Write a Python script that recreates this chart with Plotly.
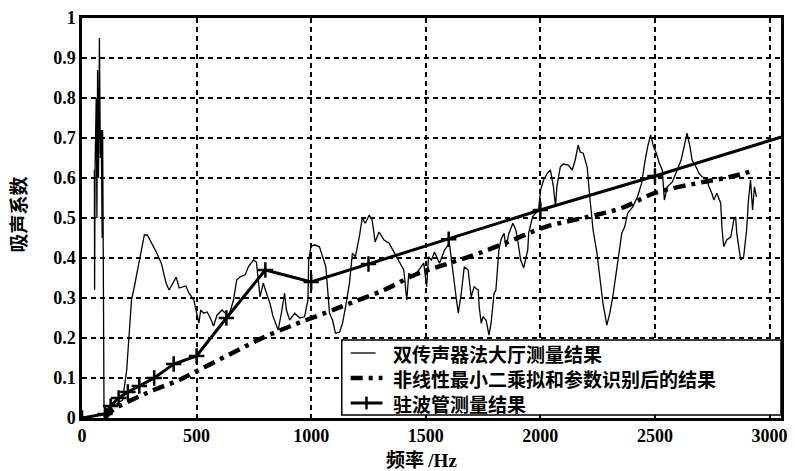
import plotly.graph_objects as go

# ---- data ----
hall_freq = [54, 55, 57, 62, 65, 68, 72, 76, 80, 84, 88, 90, 93, 96, 110, 130, 150, 177, 195, 207, 216, 229, 251, 272, 285,
             302, 324, 346, 367, 380, 402, 411, 424, 453, 467, 488, 510, 518, 531, 546, 560, 574, 589, 611, 640, 661,
             675, 690, 712, 726, 748, 761, 777, 791, 805, 820, 834, 856, 870, 884, 892, 906, 928, 950, 971, 986, 989,
             999, 1014, 1036, 1050, 1064, 1072, 1080, 1093, 1106, 1124, 1137, 1150, 1167, 1180, 1193, 1210, 1223,
             1236, 1253, 1266, 1279, 1296, 1318, 1340, 1361, 1383, 1404, 1417, 1426, 1448, 1469, 1491, 1504, 1512,
             1525, 1538, 1560, 1582, 1603, 1620, 1634, 1642, 1655, 1668, 1685, 1698, 1711, 1729, 1733, 1742, 1750,
             1763, 1776, 1785, 1798, 1806, 1819, 1828, 1841, 1850, 1863, 1880, 1893, 1901, 1914, 1927, 1945, 1949,
             1966, 1979, 1992, 2001, 2014, 2031, 2044, 2057, 2066, 2072, 2087, 2100, 2122, 2139, 2152, 2165, 2174,
             2187, 2204, 2217, 2230, 2247, 2260, 2273, 2290, 2303, 2316, 2334, 2347, 2355, 2368, 2381, 2403, 2424,
             2442, 2455, 2468, 2481, 2494, 2506, 2519, 2532, 2541, 2554, 2576, 2597, 2614, 2627, 2640, 2653, 2662,
             2679, 2692, 2705, 2723, 2736, 2748, 2757, 2770, 2787, 2792, 2800, 2813, 2831, 2844, 2852, 2857, 2874,
             2887, 2900, 2908, 2917, 2926, 2934, 2943]
hall_alpha = [0.62, 0.32, 0.62, 0.80, 0.50, 0.87, 0.60, 0.95, 0.65, 0.72, 0.45, 0.72, 0.30, 0.03, 0.02, 0.03, 0.035,
              0.045, 0.12, 0.21, 0.295, 0.33, 0.40, 0.4575, 0.4575, 0.44, 0.415, 0.387, 0.337, 0.32, 0.345, 0.352,
              0.325, 0.33, 0.312, 0.295, 0.237, 0.27, 0.262, 0.265, 0.25, 0.23, 0.257, 0.27, 0.253, 0.295, 0.345,
              0.353, 0.358, 0.378, 0.395, 0.39, 0.303, 0.337, 0.312, 0.287, 0.253, 0.22, 0.262, 0.312, 0.27, 0.245,
              0.262, 0.25, 0.253, 0.295, 0.395, 0.428, 0.433, 0.428, 0.403, 0.378, 0.32, 0.262, 0.245, 0.212, 0.215,
              0.237, 0.278, 0.337, 0.412, 0.403, 0.453, 0.50, 0.487, 0.507, 0.495, 0.44, 0.465, 0.445, 0.437, 0.415,
              0.395, 0.37, 0.295, 0.362, 0.353, 0.37, 0.387, 0.328, 0.403, 0.395, 0.415, 0.387, 0.42, 0.437, 0.353,
              0.295, 0.262, 0.312, 0.378, 0.37, 0.303, 0.328, 0.32, 0.278, 0.237, 0.253, 0.245, 0.207, 0.237, 0.312,
              0.32, 0.42, 0.445, 0.462, 0.428, 0.462, 0.487, 0.47, 0.445, 0.395, 0.375, 0.42, 0.462, 0.503, 0.512,
              0.52, 0.57, 0.595, 0.612, 0.62, 0.578, 0.528, 0.578, 0.628, 0.635, 0.632, 0.62, 0.645, 0.682, 0.665,
              0.662, 0.628, 0.545, 0.47, 0.412, 0.345, 0.287, 0.232, 0.262, 0.303, 0.37, 0.428, 0.462, 0.478, 0.512,
              0.528, 0.553, 0.587, 0.637, 0.678, 0.708, 0.678, 0.662, 0.637, 0.62, 0.545, 0.578, 0.59, 0.62, 0.645,
              0.678, 0.712, 0.678, 0.645, 0.628, 0.612, 0.603, 0.60, 0.578, 0.562, 0.545, 0.562, 0.537, 0.478, 0.428,
              0.445, 0.453, 0.495, 0.503, 0.462, 0.395, 0.403, 0.47, 0.545, 0.595, 0.52, 0.578, 0.553]

fit_freq = [100, 135, 281, 424, 510, 654, 798, 942, 1072, 1171, 1318, 1461, 1603, 1733, 1880, 2023, 2209, 2355,
            2498, 2684, 2831, 2939]
fit_alpha = [0.0, 0.02, 0.062, 0.095, 0.12, 0.162, 0.203, 0.237, 0.265, 0.287, 0.32, 0.36, 0.387, 0.412, 0.445,
             0.478, 0.503, 0.525, 0.562, 0.587, 0.603, 0.62]

tube_freq = [0, 100, 125, 160, 200, 250, 315, 400, 500, 630, 800, 1000, 1250, 1600, 2000, 2500, 3150]
tube_alpha = [0.0, 0.01, 0.03, 0.05, 0.065, 0.08, 0.10, 0.135, 0.155, 0.25, 0.37, 0.34, 0.385, 0.447, 0.52,
              0.605, 0.72]

x_ticks = [0, 500, 1000, 1500, 2000, 2500, 3000]
y_ticks = [0, 0.1, 0.2, 0.3, 0.4, 0.5, 0.6, 0.7, 0.8, 0.9, 1]

names = ["双传声器法大厅测量结果", "非线性最小二乘拟和参数识别后的结果", "驻波管测量结果"]

CJK = "Noto Sans CJK SC"
SERIF = "Liberation Serif"
FIT_DASH = "12px,6px,4px,6px"

fig = go.Figure()
fig.add_trace(go.Scatter(x=hall_freq, y=hall_alpha, mode="lines", name=names[0],
                         line=dict(color="black", width=1.3)))
fig.add_trace(go.Scatter(x=fit_freq, y=fit_alpha, mode="lines", name=names[1],
                         line=dict(color="black", width=4.5, dash=FIT_DASH, shape="spline")))
fig.add_trace(go.Scatter(x=tube_freq, y=tube_alpha, mode="lines+markers", name=names[2],
                         line=dict(color="black", width=3),
                         marker=dict(symbol="cross-thin", size=11, color="black",
                                     line=dict(color="black", width=2.5))))

axis_common = dict(showline=True, linecolor="black", linewidth=2.5, mirror=True,
                   showgrid=True, gridcolor="black", gridwidth=1.5, griddash="5px,4px",
                   zeroline=False, ticks="",
                   tickfont=dict(family=SERIF, size=18, color="black", weight="bold"))

fig.update_xaxes(range=[0, 3050], tickvals=x_ticks, **axis_common)
fig.update_yaxes(range=[0, 1], tickvals=y_ticks, **axis_common)

# ---- legend box (drawn manually for tight row spacing) ----
lx0, lx1, ly0, ly1 = 0.3716, 1.0, 0.0075, 0.195
row_y = [0.1625, 0.10, 0.0375]
sx0, sx1 = 0.3844, 0.4298
shapes = [
    dict(type="rect", xref="paper", yref="paper", x0=lx0, x1=lx1, y0=ly0, y1=ly1,
         fillcolor="white", line=dict(color="black", width=1.5), layer="above"),
    dict(type="line", xref="paper", yref="paper", x0=sx0, x1=0.42, y0=row_y[0], y1=row_y[0],
         line=dict(color="black", width=1.3), layer="above"),
    dict(type="line", xref="paper", yref="paper", x0=sx0, x1=sx1, y0=row_y[1], y1=row_y[1],
         line=dict(color="black", width=4.5, dash=FIT_DASH), layer="above"),
    dict(type="line", xref="paper", yref="paper", x0=sx0, x1=sx1, y0=row_y[2], y1=row_y[2],
         line=dict(color="black", width=3), layer="above"),
    dict(type="line", xref="paper", yref="paper", x0=0.407, x1=0.407, y0=row_y[2] - 0.016,
         y1=row_y[2] + 0.016, line=dict(color="black", width=2.5), layer="above"),
]
annotations = [
    dict(text=n, xref="paper", yref="paper", x=0.442, y=yy, xanchor="left", yanchor="middle",
         showarrow=False, font=dict(family=CJK, size=19, color="black", weight="bold"))
    for n, yy in zip(names, row_y)
]
annotations += [
    dict(text="频率 <span style='font-family:Liberation Serif'>/Hz</span>", xref="paper", yref="paper",
         x=0.485, y=-0.1, xanchor="center", yanchor="middle", showarrow=False,
         font=dict(family=CJK, size=19, color="black", weight="bold")),
    dict(text="吸声系数", xref="paper", yref="paper", x=-0.0936, y=0.5075, xanchor="center",
         yanchor="middle", showarrow=False, textangle=-90,
         font=dict(family=CJK, size=19, color="black", weight="bold")),
]

fig.update_layout(
    width=795, height=471,
    margin=dict(l=82, r=8, t=18, b=53),
    plot_bgcolor="white", paper_bgcolor="white",
    showlegend=False,
    shapes=shapes,
    annotations=annotations,
)

fig.write_html("out.html", config={"displayModeBar": False},
               post_script="document.body.style.margin='0';")
